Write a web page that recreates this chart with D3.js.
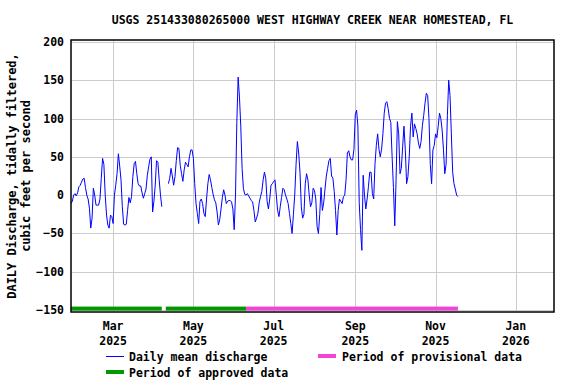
<!DOCTYPE html>
<html>
<head>
<meta charset="utf-8">
<script src="https://cdn.jsdelivr.net/npm/d3@7"></script>
<style>
  html, body { margin: 0; padding: 0; background: #ffffff; }
  svg { display: block; }
  text { font-family: "DejaVu Sans Mono", "Liberation Mono", monospace; font-weight: bold; fill: #000; }
</style>
</head>
<body>
<svg id="chart" width="576" height="384"></svg>
<script>
// ---------------- DATA ----------------
const titleText = "USGS 251433080265000 WEST HIGHWAY CREEK NEAR HOMESTEAD, FL";
const yLabelLines = ["DAILY Discharge, tidally filtered,", "cubic feet per second"];
const seriesStart = "2025-01-28";          // date of first daily value
// Daily mean discharge (cfs), one value per day starting at seriesStart; null = missing
const discharge = [
  -11, -8, 0, 2, -1, 3, 11, 13, 17, 21,
  22, 10, 0, -5, -17, -43, -30, 9, 0, -13,
  -13, -13, -5, 22, 48, 40, 0, -26, -39, -43,
  -26, -28, -37, 0, 13, 28, 54, 38, 20, -15,
  -38, -39, -38, -20, -3, -10, -2, 24, 41, 44,
  28, 15, 12, 12, 3, -4, 2, 8, 26, 37,
  47, 50, -22, -8, 13, 45, 43, 20, 0, -15,
  null, null, null, null, 15, 22, 35, 25, 13, 24,
  45, 62, 61, 39, 28, 18, 33, 43, 40, 37,
  50, 59, 59, 48, 15, -11, -24, -37, -8, -5,
  -11, -24, -28, -5, 15, 27, 20, 10, 1, -6,
  -10, -22, -39, -32, -18, -3, 7, 0, -11, -8,
  -7, -7, -9, -18, -45, 0, 95, 154, 128, 90,
  35, 9, 1, 0, 2, -1, -4, -7, -9, -20,
  -35, -30, -24, -10, -2, 5, 20, 30, 22, -8,
  -18, -5, 13, 15, 18, 20, 0, -20, -28, -15,
  -3, 9, 7, 0, -5, -11, -24, -37, -50, -25,
  0, 40, 70, 55, 30, -15, -30, -25, 15, 28,
  20, 0, -15, -10, 9, 6, -5, -41, -50, -25,
  10, -20, -10, 8, 25, 35, 45, 48, 25, 22,
  5, -20, -52, -20, -5, -8, -11, -2, 0, 20,
  55, 58, 50, 46, 46, 60, 105, 111, 90, -10,
  -45, -72, 26, 0, -18, -5, 11, 30, 30, 2,
  -5, 41, 65, 80, 60, 50, 60, 80, 107, 120,
  122, 113, 100, 95, 50, 10, -40, 20, 96, 80,
  28, 35, 63, 90, 60, 15, 24, 50, 90, 107,
  76, 93, 87, 80, 68, 61, 70, 91, 104, 120,
  133, 130, 100, 40, 15, 59, 65, 80, 75, 90,
  107, 100, 85, 60, 28, 40, 104, 150, 130, 80,
  30, 15, 8, 0, -2
];
const approvedPeriods = [["2025-01-28", "2025-04-07"], ["2025-04-10", "2025-06-10"]];
const provisionalPeriods = [["2025-06-10", "2025-11-18"]];
const xDomain = ["2025-01-28", "2026-01-30"];
const yDomain = [-152.5, 202.5];
const yTicks = [-150, -100, -50, 0, 50, 100, 150, 200];
const xTickDates = ["2025-03-01", "2025-05-01", "2025-07-01", "2025-09-01", "2025-11-01", "2026-01-01"];
const xTickMonths = ["Mar", "May", "Jul", "Sep", "Nov", "Jan"];
const xTickYears = ["2025", "2025", "2025", "2025", "2025", "2026"];
const legendItems = ["Daily mean discharge", "Period of provisional data", "Period of approved data"];

// ---------------- LAYOUT ----------------
(function () {
const parse = d3.utcParse("%Y-%m-%d");
const pLeft = 71, pRight = 554, pTop = 40, pBottom = 312;
const svg = d3.select("#chart");

const x = d3.scaleUtc().domain(xDomain.map(parse)).range([pLeft, pRight]);
const y = d3.scaleLinear().domain(yDomain).range([pBottom, pTop]);

const start = parse(seriesStart);
const points = discharge.map((v, i) => ({ date: d3.utcDay.offset(start, i), value: v }));

// gridlines
const grid = svg.append("g").attr("stroke", "#cccccc").attr("stroke-width", 1);
grid.selectAll("line.h").data(yTicks).join("line")
  .attr("x1", pLeft).attr("x2", pRight)
  .attr("y1", d => Math.round(y(d)) + 0.5).attr("y2", d => Math.round(y(d)) + 0.5);
grid.selectAll("line.v").data(xTickDates).join("line")
  .attr("y1", pTop).attr("y2", pBottom)
  .attr("x1", d => Math.round(x(parse(d))) + 0.5).attr("x2", d => Math.round(x(parse(d))) + 0.5);

// period bars
const barY = y(-150) - 1.5;
svg.append("g").selectAll("rect").data(approvedPeriods).join("rect")
  .attr("x", d => x(parse(d[0]))).attr("width", d => x(parse(d[1])) - x(parse(d[0])))
  .attr("y", barY - 2).attr("height", 4).attr("fill", "#009900");
svg.append("g").selectAll("rect").data(provisionalPeriods).join("rect")
  .attr("x", d => x(parse(d[0]))).attr("width", d => x(parse(d[1])) - x(parse(d[0])))
  .attr("y", barY - 2).attr("height", 4).attr("fill", "#f444d8");

// data line
const line = d3.line()
  .defined(d => d.value != null)
  .x(d => x(d.date))
  .y(d => y(d.value));
svg.append("path").datum(points)
  .attr("fill", "none").attr("stroke", "#0000ff").attr("stroke-width", 1)
  .attr("d", line);

// frame
svg.append("rect").attr("x", pLeft).attr("y", pTop)
  .attr("width", pRight - pLeft).attr("height", pBottom - pTop)
  .attr("fill", "none").attr("stroke", "#000").attr("stroke-width", 1.5);

// y tick labels
svg.append("g").selectAll("text").data(yTicks).join("text")
  .attr("x", 64).attr("y", d => y(d)).attr("dy", "0.35em")
  .attr("text-anchor", "end").attr("font-size", "11.5px")
  .text(d => d3.format("d")(d));

// x tick labels
const xl = svg.append("g").selectAll("text").data(xTickDates).join("text")
  .attr("text-anchor", "middle").attr("font-size", "11.5px")
  .attr("x", d => x(parse(d)));
xl.append("tspan").attr("y", 330).text((d, i) => xTickMonths[i]);
xl.append("tspan").attr("x", d => x(parse(d))).attr("y", 345).text((d, i) => xTickYears[i]);

// title
svg.append("text").attr("x", (pLeft + pRight) / 2).attr("y", 24)
  .attr("text-anchor", "middle").attr("font-size", "11.5px").text(titleText);

// y label
const yl = svg.append("text").attr("transform", "translate(0,176) rotate(-90)")
  .attr("text-anchor", "middle").attr("font-size", "12px");
yl.append("tspan").attr("x", 0).attr("y", 16).text(yLabelLines[0]);
yl.append("tspan").attr("x", 0).attr("y", 30).text(yLabelLines[1]);

// legend
const lg = svg.append("g");
lg.append("line").attr("x1", 106).attr("x2", 124).attr("y1", 356.5).attr("y2", 356.5)
  .attr("stroke", "#0000ff").attr("stroke-width", 1);
lg.append("text").attr("x", 129).attr("y", 361).attr("font-size", "11.5px").text(legendItems[0]);
lg.append("rect").attr("x", 318).attr("y", 354).attr("width", 18).attr("height", 4).attr("fill", "#f444d8");
lg.append("text").attr("x", 342).attr("y", 361).attr("font-size", "11.5px").text(legendItems[1]);
lg.append("rect").attr("x", 106).attr("y", 370).attr("width", 18).attr("height", 4).attr("fill", "#009900");
lg.append("text").attr("x", 129).attr("y", 377).attr("font-size", "11.5px").text(legendItems[2]);
})();
</script>
</body>
</html>
